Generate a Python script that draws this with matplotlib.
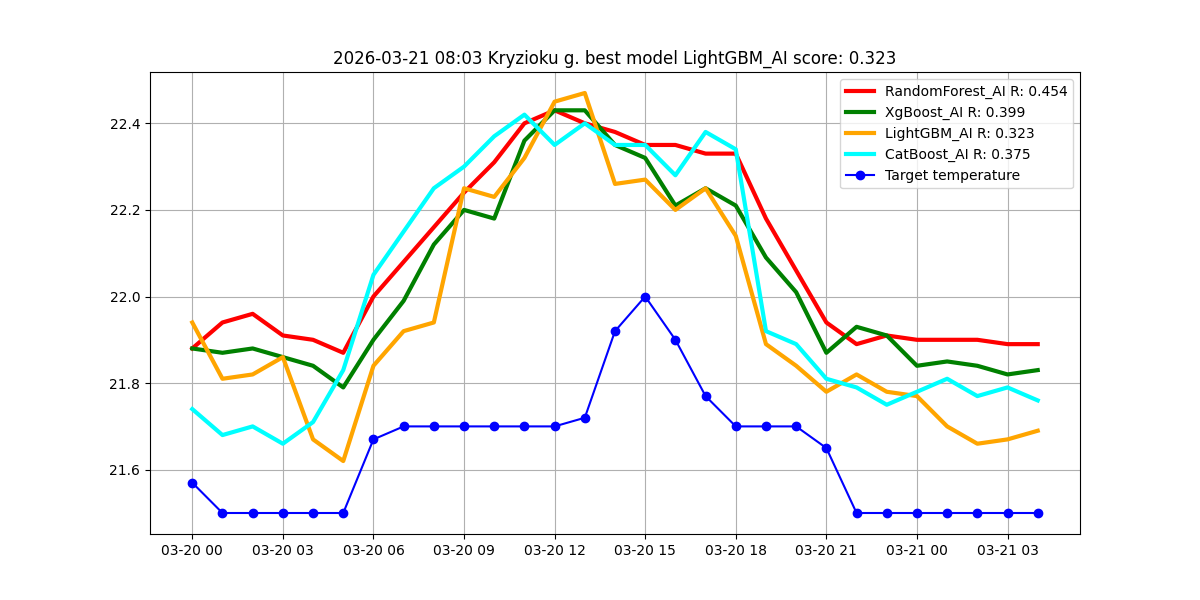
import numpy as np
import pandas as pd
import matplotlib
matplotlib.use('Agg')
import matplotlib.pyplot as plt
import matplotlib.dates as mdates

times = pd.date_range('2026-03-20 00:00', periods=29, freq='h')

random_forest = [21.88, 21.94, 21.96, 21.91, 21.90, 21.87, 22.00, 22.08, 22.16, 22.24,
                 22.31, 22.40, 22.43, 22.40, 22.38, 22.35, 22.35, 22.33, 22.33, 22.18,
                 22.06, 21.94, 21.89, 21.91, 21.90, 21.90, 21.90, 21.89, 21.89]
xgboost = [21.88, 21.87, 21.88, 21.86, 21.84, 21.79, 21.90, 21.99, 22.12, 22.20,
           22.18, 22.36, 22.43, 22.43, 22.35, 22.32, 22.21, 22.25, 22.21, 22.09,
           22.01, 21.87, 21.93, 21.91, 21.84, 21.85, 21.84, 21.82, 21.83]
lightgbm = [21.94, 21.81, 21.82, 21.86, 21.67, 21.62, 21.84, 21.92, 21.94, 22.25,
            22.23, 22.32, 22.45, 22.47, 22.26, 22.27, 22.20, 22.25, 22.14, 21.89,
            21.84, 21.78, 21.82, 21.78, 21.77, 21.70, 21.66, 21.67, 21.69]
catboost = [21.74, 21.68, 21.70, 21.66, 21.71, 21.83, 22.05, 22.15, 22.25, 22.30,
            22.37, 22.42, 22.35, 22.40, 22.35, 22.35, 22.28, 22.38, 22.34, 21.92,
            21.89, 21.81, 21.79, 21.75, 21.78, 21.81, 21.77, 21.79, 21.76]
target = [21.57, 21.50, 21.50, 21.50, 21.50, 21.50, 21.67, 21.70, 21.70, 21.70,
          21.70, 21.70, 21.70, 21.72, 21.92, 22.00, 21.90, 21.77, 21.70, 21.70,
          21.70, 21.65, 21.50, 21.50, 21.50, 21.50, 21.50, 21.50, 21.50]

fig, ax = plt.subplots(figsize=(12, 6), dpi=100)
ax.plot(times, random_forest, color='red', linewidth=3, label='RandomForest_AI R: 0.454')
ax.plot(times, xgboost, color='green', linewidth=3, label='XgBoost_AI R: 0.399')
ax.plot(times, lightgbm, color='orange', linewidth=3, label='LightGBM_AI R: 0.323')
ax.plot(times, catboost, color='cyan', linewidth=3, label='CatBoost_AI R: 0.375')
ax.plot(times, target, color='blue', marker='o', label='Target temperature')

ax.xaxis.set_major_locator(mdates.HourLocator(byhour=range(0, 24, 3)))
ax.xaxis.set_major_formatter(mdates.DateFormatter('%m-%d %H'))
ax.grid(True)
ax.legend(loc='upper right')
ax.set_title('2026-03-21 08:03 Kryzioku g. best model LightGBM_AI score: 0.323')

plt.savefig('out.png')
